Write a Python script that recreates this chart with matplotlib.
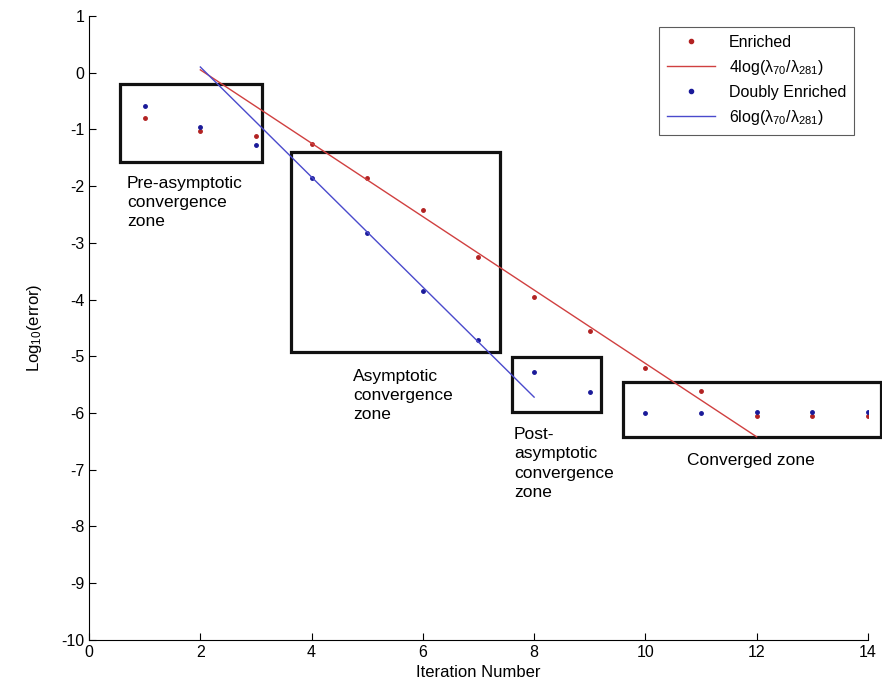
import matplotlib.pyplot as plt
import matplotlib.patches as patches

plt.rcParams['font.family'] = ['Liberation Sans', 'DejaVu Sans']
plt.rcParams['axes.unicode_minus'] = False
plt.rcParams['mathtext.default'] = 'regular'

# Datos
iters = [1, 2, 3, 4, 5, 6, 7, 8, 9, 10, 11, 12, 13, 14]
enriched = [-0.80, -1.02, -1.12, -1.25, -1.85, -2.42, -3.25, -3.95, -4.55, -5.20, -5.62, -6.06, -6.06, -6.06]
doubly_it = [1, 2, 3, 4, 5, 6, 7, 8, 9, 10, 11, 12, 13, 14]
doubly = [-0.58, -0.95, -1.28, -1.85, -2.82, -3.85, -4.72, -5.28, -5.63, -6.00, -6.00, -5.98, -5.98, -5.98]

fit4_x = [2, 12]
fit4_y = [0.05, -6.42]
fit6_x = [2, 8]
fit6_y = [0.10, -5.72]

# zonas: (x0, y0, ancho, alto)
zones = [(0.56, -1.57, 2.55, 1.37),
         (3.63, -4.93, 3.76, 3.53),
         (7.61, -5.98, 1.60, 0.97),
         (9.59, -6.42, 4.64, 0.96)]
zone_labels = ['Pre-asymptotic\nconvergence\nzone',
               'Asymptotic\nconvergence\nzone',
               'Post-\nasymptotic\nconvergence\nzone',
               'Converged zone']
label_pos = [(0.68, -1.82), (4.75, -5.22), (7.64, -6.25), (10.74, -6.70)]

fig = plt.figure(figsize=(8.82, 6.94), dpi=100)
ax = fig.add_axes([0.101, 0.078, 0.883, 0.899])

ax.plot(iters, enriched, '.', color='#b22222', markersize=5, label='Enriched')
ax.plot(fit4_x, fit4_y, '-', color='#d04040', linewidth=1, label=r'4log($\lambda_{70}$/$\lambda_{281}$)')
ax.plot(doubly_it, doubly, '.', color='#1a1a99', markersize=5, label='Doubly Enriched')
ax.plot(fit6_x, fit6_y, '-', color='#4a4acc', linewidth=1, label=r'6log($\lambda_{70}$/$\lambda_{281}$)')

for (x0, y0, w, h) in zones:
    ax.add_patch(patches.Rectangle((x0, y0), w, h, fill=False, edgecolor='#111111',
                                   linewidth=2.3, clip_on=False))

for txt, (tx, ty) in zip(zone_labels, label_pos):
    ax.text(tx, ty, txt, fontsize=12.5, va='top', ha='left', linespacing=1.35)

ax.set_xlim(0, 14)
ax.set_ylim(-10, 1)
ax.set_xticks(range(0, 15, 2))
ax.set_yticks(range(-10, 2))
ax.tick_params(direction='in', labelsize=11.5, length=5)
ax.spines['top'].set_visible(False)
ax.spines['right'].set_visible(False)
ax.set_xlabel('Iteration Number', fontsize=12)
ax.set_ylabel(r'Log$_{10}$(error)', fontsize=12, labelpad=12)

leg = ax.legend(loc='upper right', bbox_to_anchor=(0.993, 0.995), fontsize=11.5, frameon=True,
                fancybox=False, edgecolor='#333333', handlelength=3.0, handletextpad=0.9,
                borderpad=0.5, labelspacing=0.5, markerscale=1.2)
leg.get_frame().set_linewidth(0.8)

plt.savefig('out.png', dpi=100)
